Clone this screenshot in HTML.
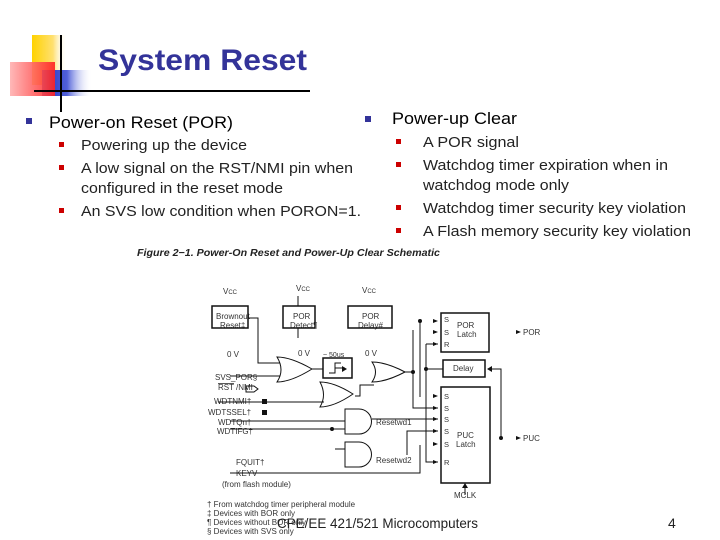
<!DOCTYPE html>
<html><head><meta charset="utf-8"><style>
html,body{margin:0;padding:0;background:#fff;}
svg{display:block;font-family:"Liberation Sans",Arial,sans-serif;}
</style></head><body>
<svg width="720" height="540" viewBox="0 0 720 540" xmlns="http://www.w3.org/2000/svg">
<defs>
<linearGradient id="gy" x1="0" x2="1"><stop offset="0" stop-color="#ffd200"/><stop offset="0.6" stop-color="#ffe070"/><stop offset="1" stop-color="#fff" stop-opacity="0"/></linearGradient>
<linearGradient id="gb" x1="0" x2="1"><stop offset="0" stop-color="#2030c0"/><stop offset="0.5" stop-color="#5060d8"/><stop offset="1" stop-color="#fff" stop-opacity="0"/></linearGradient>
<linearGradient id="gr" x1="0" x2="1"><stop offset="0" stop-color="#ffb0b0"/><stop offset="1" stop-color="#ff2020"/></linearGradient>
</defs>
<!-- logo -->
<rect x="32" y="35" width="35" height="50" fill="url(#gy)"/>
<rect x="42" y="70" width="50" height="26" fill="url(#gb)"/>
<rect x="10" y="62" width="45" height="34" fill="url(#gr)" opacity="0.9"/>
<line x1="61" y1="35" x2="61" y2="112" stroke="#000" stroke-width="2"/>
<line x1="34" y1="91" x2="310" y2="91" stroke="#000" stroke-width="2"/>
<text x="98" y="70" font-size="30" font-weight="bold" fill="#333399" textLength="209" lengthAdjust="spacingAndGlyphs">System Reset</text>
<!-- bullets -->
<g fill="#333399"><rect x="26" y="118" width="6" height="6"/><rect x="365" y="116" width="6" height="6"/></g>
<text x="49" y="128" font-size="17" textLength="184" lengthAdjust="spacingAndGlyphs">Power-on Reset (POR)</text>
<text x="392" y="124" font-size="17" textLength="125" lengthAdjust="spacingAndGlyphs">Power-up Clear</text>
<g fill="#cc0000">
<rect x="59" y="142" width="5" height="5"/><rect x="59" y="165" width="5" height="5"/><rect x="59" y="208" width="5" height="5"/>
<rect x="396" y="139" width="5" height="5"/><rect x="396" y="162" width="5" height="5"/><rect x="396" y="205" width="5" height="5"/><rect x="396" y="228" width="5" height="5"/>
</g>
<g font-size="14.5" fill="#222" lengthAdjust="spacingAndGlyphs">
<text x="81" y="150" textLength="166" lengthAdjust="spacingAndGlyphs">Powering up the device</text>
<text x="81" y="173" textLength="272" lengthAdjust="spacingAndGlyphs">A low signal on the RST/NMI pin when</text>
<text x="81" y="193" textLength="202" lengthAdjust="spacingAndGlyphs">configured in the reset mode</text>
<text x="81" y="216" textLength="280" lengthAdjust="spacingAndGlyphs">An SVS low condition when PORON=1.</text>
<text x="423" y="147" textLength="96" lengthAdjust="spacingAndGlyphs">A POR signal</text>
<text x="423" y="170" textLength="245" lengthAdjust="spacingAndGlyphs">Watchdog timer expiration when in</text>
<text x="423" y="190" textLength="146" lengthAdjust="spacingAndGlyphs">watchdog mode only</text>
<text x="423" y="213" textLength="263" lengthAdjust="spacingAndGlyphs">Watchdog timer security key violation</text>
<text x="423" y="236" textLength="268" lengthAdjust="spacingAndGlyphs">A Flash memory security key violation</text>
</g>
<!-- schematic -->
<text x="137" y="256" font-size="10" font-style="italic" font-weight="bold" fill="#222" textLength="303" lengthAdjust="spacingAndGlyphs">Figure 2−1. Power-On Reset and Power-Up Clear Schematic</text>
<g font-size="8" fill="#333">
<text x="223" y="294">V<tspan font-size="6">CC</tspan></text>
<text x="296" y="291">V<tspan font-size="6">CC</tspan></text>
<text x="362" y="293">V<tspan font-size="6">CC</tspan></text>
<text x="227" y="357">0 V</text><text x="298" y="356">0 V</text><text x="365" y="356">0 V</text>
<text x="323" y="357" font-size="7">~ 50us</text>
<text x="216" y="319">Brownout</text><text x="220" y="328">Reset‡</text>
<text x="293" y="319">POR</text><text x="290" y="328">Detect¶</text>
<text x="362" y="319">POR</text><text x="358" y="328">Delay#</text>
<text x="457" y="328">POR</text><text x="457" y="337">Latch</text>
<text x="453" y="371">Delay</text>
<text x="457" y="438">PUC</text><text x="456" y="447">Latch</text>
<g font-size="7.5">
<text x="444" y="322">S</text><text x="444" y="335">S</text><text x="444" y="347">R</text>
<text x="444" y="399">S</text><text x="444" y="411">S</text><text x="444" y="422">S</text><text x="444" y="434">S</text><text x="444" y="447">S</text><text x="444" y="465">R</text>
</g>
<text x="215" y="380">SVS_POR§</text>
<text x="218" y="390" text-decoration="overline">RST</text><text x="236" y="390">/NMI</text>
<text x="214" y="404">WDTNMI†</text>
<text x="208" y="415">WDTSSEL†</text>
<text x="218" y="425">WDTQn†</text>
<text x="217" y="434">WDTIFG†</text>
<text x="376" y="425">Resetwd1</text>
<text x="376" y="463">Resetwd2</text>
<text x="236" y="465">FQUIT†</text>
<text x="236" y="476">KEYV</text>
<text x="222" y="487">(from flash module)</text>
<text x="523" y="335">POR</text>
<text x="523" y="441">PUC</text>
<text x="454" y="498">MCLK</text>
<text x="207" y="507">† From watchdog timer peripheral module</text>
<text x="207" y="516">‡ Devices with BOR only</text>
<text x="207" y="525">¶ Devices without BOR only</text>
<text x="207" y="534">§ Devices with SVS only</text>
</g>
<g fill="none" stroke="#111" stroke-width="1">
<rect x="212" y="306" width="36" height="22" stroke-width="1.5"/>
<rect x="283" y="306" width="32" height="22" stroke-width="1.5"/>
<rect x="348" y="306" width="44" height="22" stroke-width="1.5"/>
<rect x="441" y="313" width="48" height="39" stroke-width="1.5"/>
<rect x="443" y="360" width="42" height="17" stroke-width="1.5"/>
<rect x="441" y="387" width="49" height="96" stroke-width="1.5"/>
<rect x="323" y="358" width="29" height="20" stroke-width="1.5"/>
<path d="M329 373 h6 v-10 h6 M335 368 h10"/>
<path d="M277 357 q14 0 35 12 q-21 13 -35 13 q8 -12 0 -25z"/>
<path d="M372 362 q14 0 33 10 q-19 10 -33 10 q7 -10 0 -20z"/>
<path d="M320 382 q14 0 33 12 q-19 13 -33 13 q7 -12 0 -25z"/>
<path d="M345 409 h14 a12.5 12.5 0 0 1 0 25 h-14z"/>
<path d="M345 442 h14 a12.5 12.5 0 0 1 0 25 h-14z"/>
<path d="M248 318 h10 v45 h22"/>
<path d="M230 376 h50"/>
<path d="M298 296 v10 M298 328 v10"/>
<path d="M312 369 h11"/>
<path d="M218 402 h106"/>
<path d="M355 396 h5 v-11 h14"/>
<path d="M230 421 h115 M230 429 h115"/>
<path d="M372 419 h66"/>
<path d="M335 449 h10"/>
<path d="M405 372 h8 M413 330 v78 h25"/>
<path d="M420 321 v76"/>
<path d="M426 344 h12 M426 344 v118 h12 M426 369 h17"/>
<path d="M407 455 v-24 h31"/>
<path d="M230 473 h190 v-28"/>
<path d="M488 369 h13 v69"/>
<path d="M465 495 v-10"/>
<path d="M246 386 h8 l4 3 l-4 3 h-8z"/>
</g>
<g fill="#111">
<circle cx="413" cy="372" r="2"/><circle cx="420" cy="321" r="2"/><circle cx="426" cy="369" r="2"/>
<circle cx="501" cy="438" r="2"/><circle cx="332" cy="429" r="2"/>
<rect x="262" y="399" width="5" height="5"/><rect x="262" y="410" width="5" height="5"/>
<path d="M347 369 l-5 -3 v6z"/>
<path d="M433 319 l5 2 l-5 2z M433 330 l5 2 l-5 2z M433 342 l5 2 l-5 2z M433 394 l5 2 l-5 2z M433 406 l5 2 l-5 2z M433 417 l5 2 l-5 2z M433 429 l5 2 l-5 2z M433 442 l5 2 l-5 2z M433 460 l5 2 l-5 2z"/>
<path d="M516 330 l5 2 l-5 2z M516 436 l5 2 l-5 2z"/>
<path d="M487 369 l5 -3 v6z"/>
<path d="M465 483 l-3 5 h6z"/>
</g>
<text x="277" y="528" font-size="14" fill="#222" textLength="201" lengthAdjust="spacingAndGlyphs">CPE/EE 421/521 Microcomputers</text>
<text x="668" y="528" font-size="14" fill="#222">4</text>
</svg>
</body></html>
